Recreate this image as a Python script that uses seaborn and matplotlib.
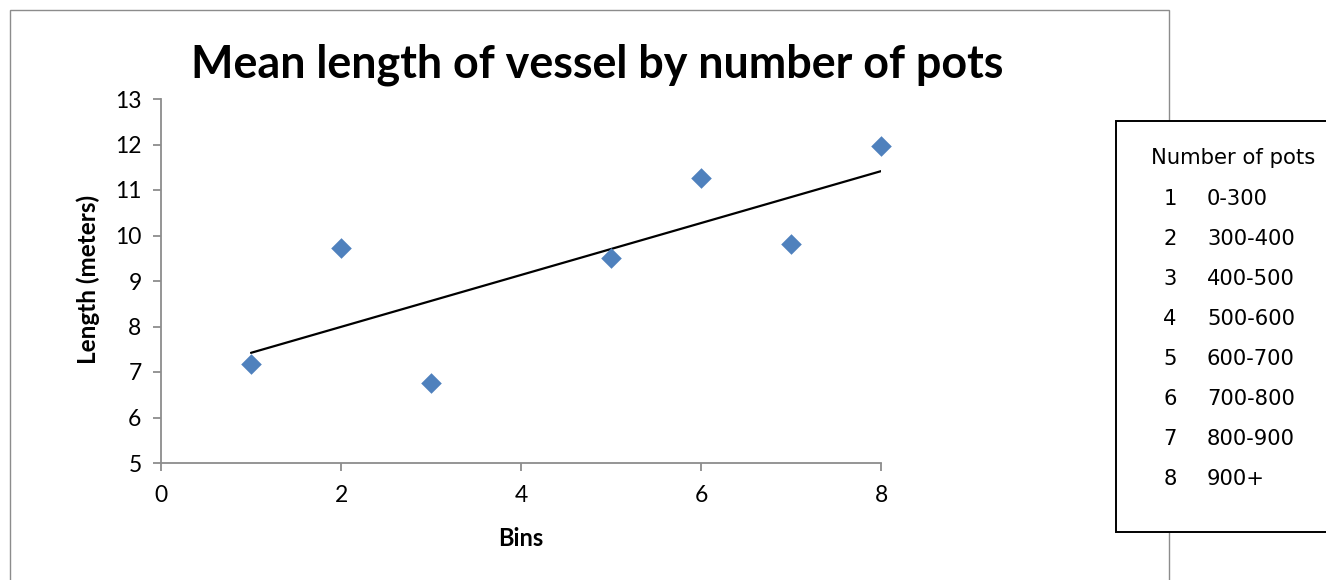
import matplotlib
matplotlib.use("Agg")
import matplotlib.pyplot as plt
from matplotlib.patches import Rectangle
import numpy as np
import pandas as pd
import seaborn as sns

# Mean vessel length per bin of pot counts
bins = [1, 2, 3, 5, 6, 7, 8]
mean_length = [7.18, 9.72, 6.75, 9.51, 11.27, 9.81, 11.97]

# Bin key shown beside the chart
bin_ids = ["1", "2", "3", "4", "5", "6", "7", "8"]
pot_ranges = ["0-300", "300-400", "400-500", "500-600", "600-700",
              "700-800", "800-900", "900+"]

x_ticks = [0, 2, 4, 6, 8]
y_ticks = [5, 6, 7, 8, 9, 10, 11, 12, 13]

df = pd.DataFrame({"Bins": bins, "Length": mean_length})

sns.set_theme(style="white")
plt.rcParams["font.family"] = ["Lato", "DejaVu Sans"]
plt.rcParams["text.color"] = "black"

W, H = 1326, 580
fig = plt.figure(figsize=(W / 100, H / 100), dpi=100)
fig.patch.set_facecolor("white")

def fx(px):
    return px / W

def fy(py):
    return 1 - py / H

# Outer chart frame
fig.patches.append(Rectangle((fx(10), fy(600)), fx(1169) - fx(10), fy(10) - fy(600),
                             transform=fig.transFigure, fill=False,
                             edgecolor="#8c8c8c", linewidth=1.0, zorder=0))

ax = fig.add_axes([fx(161), fy(463), fx(881) - fx(161), fy(99) - fy(463)])
ax.set_facecolor("none")

sns.regplot(data=df, x="Bins", y="Length", ax=ax, scatter=False, ci=None,
            truncate=True, color="black", line_kws={"linewidth": 1.6, "zorder": 2})
sns.scatterplot(data=df, x="Bins", y="Length", ax=ax, marker="D", s=110,
                color="#4F81BD", edgecolor="#4F81BD", linewidth=0, zorder=3,
                clip_on=False)

ax.set_xlim(0, 8)
ax.set_ylim(5, 13)
ax.set_xticks(x_ticks)
ax.set_yticks(y_ticks)
ax.set_xlabel("")
ax.set_ylabel("")

for side in ("top", "right"):
    ax.spines[side].set_visible(False)
for side in ("left", "bottom"):
    ax.spines[side].set_color("#8c8c8c")
    ax.spines[side].set_linewidth(1.3)

ax.tick_params(axis="both", which="major", direction="out", length=6,
               width=1.3, color="#8c8c8c", labelsize=16.5, labelcolor="black",
               left=True, bottom=True)
ax.tick_params(axis="x", pad=10)
ax.tick_params(axis="y", pad=8)

fig.text(fx(597), fy(65), "Mean length of vessel by number of pots",
         ha="center", va="center", fontsize=32.3, fontweight="bold", color="black")
fig.text(fx(88), fy(279), "Length (meters)", ha="center", va="center",
         rotation=90, fontsize=17.5, fontweight="bold", color="black")
fig.text(fx(521), fy(538), "Bins", ha="center", va="center",
         fontsize=17, fontweight="bold", color="black")

# Bin key box
fig.patches.append(Rectangle((fx(1116), fy(532)), fx(1400) - fx(1116), fy(121) - fy(532),
                             transform=fig.transFigure, facecolor="white",
                             edgecolor="black", linewidth=1.4, zorder=5))
key_font = ["DejaVu Sans"]
fig.text(fx(1151), fy(158), "Number of pots", ha="left", va="center",
         fontsize=15.2, family=key_font, color="black", zorder=6)
for i, (bid, rng) in enumerate(zip(bin_ids, pot_ranges)):
    yy = 199 + 40 * i
    fig.text(fx(1170), fy(yy), bid, ha="center", va="center",
             fontsize=15.2, family=key_font, color="black", zorder=6)
    fig.text(fx(1207), fy(yy), rng, ha="left", va="center",
             fontsize=15.2, family=key_font, color="black", zorder=6)

fig.savefig("out.png", dpi=100)
